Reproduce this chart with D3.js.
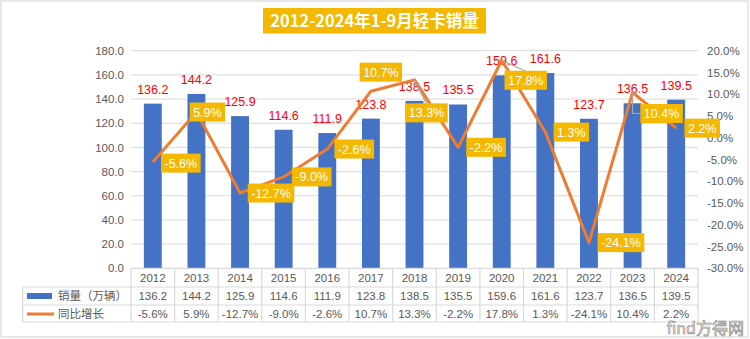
<!DOCTYPE html>
<html>
<head>
<meta charset="utf-8">
<script src="https://cdn.jsdelivr.net/npm/d3@7"></script>
<style>
  body { margin: 0; background: #fff; }
  svg text { font-family: "Liberation Sans", "Noto Sans CJK SC", sans-serif; }
</style>
</head>
<body>
<div id="chart"></div>
<script>
// data
const years = ["2012","2013","2014","2015","2016","2017","2018","2019","2020","2021","2022","2023","2024"];
const sales = [136.2,144.2,125.9,114.6,111.9,123.8,138.5,135.5,159.6,161.6,123.7,136.5,139.5];
const growth = [-5.6,5.9,-12.7,-9.0,-2.6,10.7,13.3,-2.2,17.8,1.3,-24.1,10.4,2.2];
const leftTicks = [0,20,40,60,80,100,120,140,160,180];
const rightTicks = [-30,-25,-20,-15,-10,-5,0,5,10,15,20];

// where each yellow label sits relative to its point (layout only)
const growthLabelShift = [[28,1],[11,0],[31,0],[28,0],[27,0],[10,-19],[12,33],[28,0],[24,20],[26,0],[32,0],[29,21],[26,0]];
const leaderYears = ["2018","2020","2023"];

const W = 750, H = 339;
const m = {left: 131, right: 698, top: 50.7, bottom: 268.3};
const yellow = "#F4B800", blue = "#4472C4", orange = "#ED7D31", grey = "#595959", rule = "#D9D9D9";

const svg = d3.select("#chart").append("svg")
	.attr("width", W)
	.attr("height", H);

// outer frame
svg.append("rect")
	.attr("x", 1).attr("y", 1)
	.attr("width", W - 3).attr("height", H - 3)
	.attr("fill", "#fff")
	.attr("stroke", "#D9D9D9")
	.attr("stroke-width", 1.2);

const x = d3.scaleBand().domain(years).range([m.left, m.right]).paddingInner(0.59).paddingOuter(0.295);
const xc = d3.scaleBand().domain(years).range([m.left, m.right]); // table cells
const y = d3.scaleLinear().domain([0, 180]).range([m.bottom, m.top]);
const y2 = d3.scaleLinear().domain([-30, 20]).range([m.bottom, m.top]);
const cx = d => xc(d) + xc.bandwidth() / 2;

// gridlines
svg.append("g")
	.selectAll("line")
	.data(leftTicks.slice(1))
	.join("line")
	.attr("x1", m.left).attr("x2", m.right)
	.attr("y1", d => y(d)).attr("y2", d => y(d))
	.attr("stroke", rule).attr("stroke-width", 1);

// left axis
const yAxis = svg.append("g")
	.attr("transform", `translate(${m.left},0)`)
	.call(d3.axisLeft(y).tickValues(leftTicks).tickFormat(d3.format(".1f")).tickSize(0).tickPadding(7));
yAxis.select(".domain").remove();
yAxis.selectAll("text").attr("fill", grey).attr("font-size", 11.5);

// right axis
const y2Axis = svg.append("g")
	.attr("transform", `translate(${m.right},0)`)
	.call(d3.axisRight(y2).tickValues(rightTicks).tickFormat(d => d.toFixed(1) + "%").tickSize(0).tickPadding(9));
y2Axis.select(".domain").remove();
y2Axis.selectAll("text").attr("fill", grey).attr("font-size", 11.5);

// bars
svg.append("g")
	.selectAll("rect")
	.data(years)
	.join("rect")
	.attr("x", d => x(d))
	.attr("width", x.bandwidth())
	.attr("y", (d, i) => y(sales[i]))
	.attr("height", (d, i) => y(0) - y(sales[i]))
	.attr("fill", blue);

// bar labels
svg.append("g")
	.selectAll("text")
	.data(years)
	.join("text")
	.attr("x", d => cx(d))
	.attr("y", (d, i) => y(sales[i]) - 10)
	.attr("text-anchor", "middle")
	.attr("font-size", 12.5)
	.attr("fill", "#FF0000")
	.text((d, i) => sales[i].toFixed(1));

// growth line
const line = d3.line()
	.x(d => cx(d[0]))
	.y(d => y2(d[1]));
svg.append("path")
	.datum(d3.zip(years, growth))
	.attr("d", line)
	.attr("fill", "none")
	.attr("stroke", orange)
	.attr("stroke-width", 3)
	.attr("stroke-linejoin", "round");

// growth labels
const gl = svg.append("g")
	.selectAll("g")
	.data(years)
	.join("g")
	.attr("transform", (d, i) => `translate(${cx(d) + growthLabelShift[i][0]},${y2(growth[i]) + growthLabelShift[i][1]})`);

// leader lines for the labels pushed away from their point
svg.append("g")
	.selectAll("path")
	.data(leaderYears)
	.join("path")
	.attr("d", d => {
		const i = years.indexOf(d);
		const px = cx(d), py = y2(growth[i]);
		const bx = px + growthLabelShift[i][0], by = py + growthLabelShift[i][1];
		if (growthLabelShift[i][0] > 25) return `M${px},${py}V${by}H${bx - 18}`;
		return `M${px},${py}L${bx},${by - 9}`;
	})
	.attr("fill", "none")
	.attr("stroke", "#A6A6A6")
	.attr("stroke-width", 1.2);
svg.node().appendChild(gl.node().parentNode);

gl.append("text")
	.attr("text-anchor", "middle")
	.attr("dy", "0.36em")
	.attr("font-size", 12.5)
	.attr("fill", "#fff")
	.text((d, i) => growth[i].toFixed(1) + "%");
gl.each(function() {
	const g = d3.select(this);
	const b = g.select("text").node().getBBox();
	g.insert("rect", "text")
		.attr("x", b.x - 3.5).attr("y", -9.5)
		.attr("width", b.width + 7).attr("height", 19)
		.attr("fill", yellow);
});

// data table
const rowY = [m.bottom, 287, 305, 322];
const tableLeft = 22.7;
const tbl = svg.append("g").attr("stroke", rule).attr("stroke-width", 1.2);
tbl.append("line").attr("x1", m.left).attr("x2", m.right).attr("y1", rowY[0]).attr("y2", rowY[0]);
rowY.slice(1).forEach(ry => {
	tbl.append("line").attr("x1", tableLeft).attr("x2", m.right).attr("y1", ry).attr("y2", ry);
});
tbl.append("line").attr("x1", tableLeft).attr("x2", tableLeft).attr("y1", rowY[1]).attr("y2", rowY[3]);
tbl.selectAll("line.v")
	.data(years.concat(["end"]))
	.join("line")
	.attr("class", "v")
	.attr("x1", d => d == "end" ? m.right : xc(d))
	.attr("x2", d => d == "end" ? m.right : xc(d))
	.attr("y1", rowY[0]).attr("y2", rowY[3]);

const rows = [
	years,
	sales.map(v => v.toFixed(1)),
	growth.map(v => v.toFixed(1) + "%")
];
rows.forEach((r, ri) => {
	svg.append("g")
		.selectAll("text")
		.data(r)
		.join("text")
		.attr("x", (d, i) => cx(years[i]))
		.attr("y", (rowY[ri] + rowY[ri + 1]) / 2)
		.attr("dy", "0.36em")
		.attr("text-anchor", "middle")
		.attr("font-size", 11.5)
		.attr("fill", grey)
		.text(d => d);
});

// legend keys inside the table
svg.append("rect")
	.attr("x", 27).attr("y", 293)
	.attr("width", 25).attr("height", 6)
	.attr("fill", blue);
svg.append("line")
	.attr("x1", 27).attr("x2", 54)
	.attr("y1", 314).attr("y2", 314)
	.attr("stroke", orange).attr("stroke-width", 3);
svg.append("text")
	.attr("x", 58).attr("y", (rowY[1] + rowY[2]) / 2).attr("dy", "0.36em")
	.attr("font-size", 11.5).attr("fill", grey)
	.style("font-family", "'Noto Sans CJK SC'")
	.text("销量（万辆）");
svg.append("text")
	.attr("x", 58).attr("y", (rowY[2] + rowY[3]) / 2).attr("dy", "0.36em")
	.attr("font-size", 11.5).attr("fill", grey)
	.style("font-family", "'Noto Sans CJK SC'")
	.text("同比增长");

// title
svg.append("rect")
	.attr("x", 263).attr("y", 8)
	.attr("width", 223).attr("height", 25.5)
	.attr("fill", yellow);
svg.append("text")
	.attr("x", 374.5).attr("y", 21).attr("dy", "0.36em")
	.attr("text-anchor", "middle")
	.attr("font-size", 16.5).attr("font-weight", "bold")
	.attr("fill", "#fff")
	.style("font-family", "'Noto Sans CJK SC'")
	.text("2012-2024年1-9月轻卡销量");

// watermark
svg.append("text")
	.attr("x", 744).attr("y", 334)
	.attr("text-anchor", "end")
	.attr("font-size", 16)
	.attr("fill", "#fff").attr("stroke", "#8c8c8c").attr("stroke-width", 0.7)
	.style("font-family", "'Noto Sans CJK SC'")
	.text("find方得网");
</script>
</body>
</html>
